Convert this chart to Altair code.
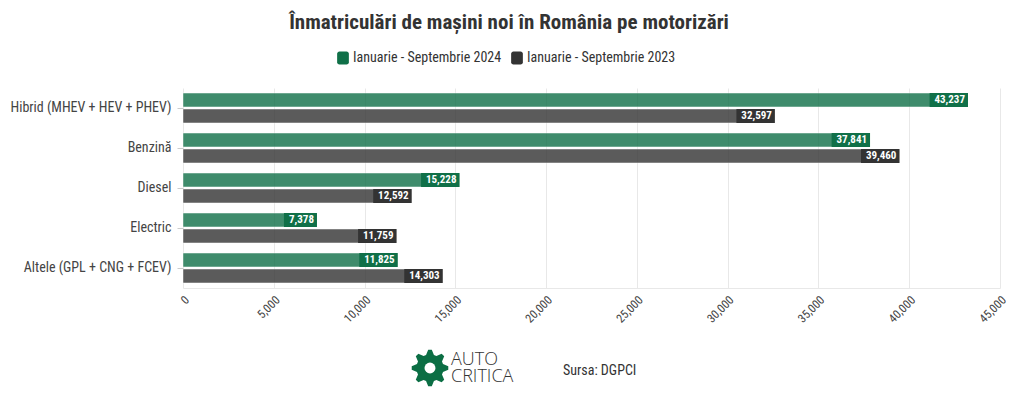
import math
import altair as alt
import pandas as pd

categories = ["Hibrid (MHEV + HEV + PHEV)", "Benzină", "Diesel", "Electric", "Altele (GPL + CNG + FCEV)"]
series_names = ["Ianuarie - Septembrie 2024", "Ianuarie - Septembrie 2023"]
values_2024 = [43237, 37841, 15228, 7378, 11825]
values_2023 = [32597, 39460, 12592, 11759, 14303]
x_ticks = [0, 5000, 10000, 15000, 20000, 25000, 30000, 35000, 40000, 45000]
title_text = "Înmatriculări de mașini noi în România pe motorizări"

FONT = "'Roboto Condensed', 'Liberation Sans Narrow', Roboto, sans-serif"
W, H = 817, 200
XMAX = 45000
colors = ["#107048", "#333333"]

rows = []
for s, vals in zip(series_names, [values_2024, values_2023]):
    for c, v in zip(categories, vals):
        rows.append({"cat": c, "series": s, "value": v})
df = pd.DataFrame(rows)

x_axis = alt.Axis(title=None, values=x_ticks, format=",.0f", labelAngle=-45,
                  labelFontSize=12, labelColor="#444", labelFont=FONT,
                  grid=True, gridColor="#e8e8e8", domain=True, domainColor="#e8e8e8",
                  ticks=False, labelPadding=6)
x_scale = alt.Scale(domain=[0, XMAX], nice=False)
y_axis = alt.Axis(title=None, labelFontSize=14, labelColor="#444", labelFont=FONT,
                  domain=False, ticks=True, tickColor="#cccccc", tickSize=6,
                  labelPadding=6, grid=False)
y_enc = alt.Y("cat:N", sort=categories,
              scale=alt.Scale(paddingInner=0.25, paddingOuter=0.125), axis=y_axis)
yoff_enc = alt.YOffset("series:N", sort=series_names,
                       scale=alt.Scale(paddingInner=0.125, paddingOuter=0))

rounded = ("M-0.55,-1 H0.55 A0.35,0.35 0 0 1 0.9,-0.65 V0.65 A0.35,0.35 0 0 1 0.55,1 "
           "H-0.55 A0.35,0.35 0 0 1 -0.9,0.65 V-0.65 A0.35,0.35 0 0 1 -0.55,-1 Z")

bars = alt.Chart(df).mark_bar(opacity=0.8, stroke="#ffffff", strokeWidth=0.5).encode(
    y=y_enc, yOffset=yoff_enc,
    x=alt.X("value:Q", scale=x_scale, axis=x_axis),
    color=alt.Color("series:N", sort=series_names,
                    scale=alt.Scale(domain=series_names, range=colors),
                    legend=alt.Legend(title=None, orient="none", direction="horizontal",
                                      legendX=153, legendY=-37, symbolType=rounded,
                                      symbolSize=170, symbolOpacity=1, labelFontSize=14,
                                      labelColor="#333", labelFont=FONT, columnPadding=8,
                                      symbolStrokeWidth=0, labelOffset=3)),
)

px_to_data = XMAX / W
label_bg = alt.Chart(df).transform_calculate(
    label="format(datum.value, ',')"
).transform_calculate(
    x0=f"datum.value - (5.4*length(datum.label) + 6) * {px_to_data}"
).mark_bar().encode(
    y=y_enc, yOffset=yoff_enc,
    x=alt.X("x0:Q", scale=x_scale, axis=x_axis), x2="value:Q",
    color=alt.Color("series:N", sort=series_names, legend=None,
                    scale=alt.Scale(domain=series_names, range=colors)),
)

labels = alt.Chart(df).mark_text(align="right", baseline="middle", dx=-3, color="white",
                                 fontWeight="bold", fontSize=11, font=FONT).encode(
    y=y_enc, yOffset=yoff_enc,
    x=alt.X("value:Q", scale=x_scale, axis=x_axis),
    text=alt.Text("value:Q", format=","),
)

# header and footer
one = pd.DataFrame({"k": [0]})
title_mark = alt.Chart(one).mark_text(text=title_text, align="center", baseline="middle",
                                      fontSize=21, fontWeight="bold", font=FONT,
                                      color="#333").encode(x=alt.value(326), y=alt.value(-65))

pts = []
teeth = 8
for i in range(teeth * 4):
    ang = 2 * math.pi * i / (teeth * 4) - math.pi / 2 - math.pi / 32
    r = 1.0 if (i % 4) in (0, 1) else 0.74
    pts.append((r * math.cos(ang), r * math.sin(ang)))
gear = "M" + " L".join(f"{x:.3f},{y:.3f}" for x, y in pts) + " Z"

gear_mark = alt.Chart(one).mark_point(shape=gear, filled=True, opacity=1, color="#0b6e44",
                                      size=1350).encode(x=alt.value(247), y=alt.value(280))
hole = alt.Chart(one).mark_point(shape="circle", filled=True, opacity=1, color="white",
                                 size=120).encode(x=alt.value(247), y=alt.value(280))
logo_t = alt.Chart(one).mark_text(text=["AUTO", "CRITICA"], align="left", baseline="middle",
                                  fontSize=18, lineHeight=17,
                                  font="'Open Sans', sans-serif", fontWeight=300,
                                  color="#333").encode(x=alt.value(268), y=alt.value(272))
src_t = alt.Chart(one).mark_text(text="Sursa: DGPCI", align="left", baseline="middle",
                                 fontSize=14, font=FONT, color="#333").encode(
    x=alt.value(380), y=alt.value(283))

chart = alt.layer(bars, label_bg, labels, title_mark, gear_mark, hole, logo_t,
                  src_t).properties(
    width=W, height=H,
    autosize=alt.AutoSizeParams(type="none"),
    padding={"left": 175, "top": 80, "right": 10, "bottom": 105},
).configure_view(stroke=None).resolve_scale(color="independent")

chart.save("out.html", embed_options={"renderer": "svg", "actions": False})
